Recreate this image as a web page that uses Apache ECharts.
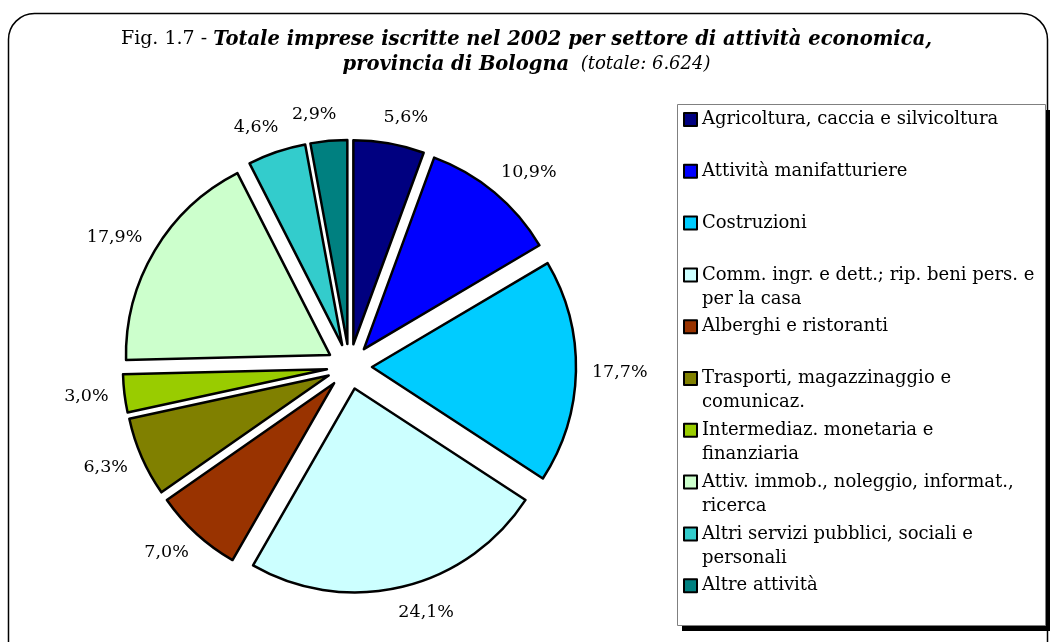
<!DOCTYPE html>
<html>
<head>
<meta charset="utf-8">
<script src="https://cdn.jsdelivr.net/npm/echarts@6/dist/echarts.min.js"></script>
<style>
html,body{margin:0;padding:0;background:#fff;}
#chart{width:1053px;height:642px;}
</style>
</head>
<body>
<div id="chart"></div>
<script>
/* dati: imprese iscritte 2002 per settore, provincia di Bologna */
var categories = [
    'Agricoltura, caccia e silvicoltura',
    'Attività manifatturiere',
    'Costruzioni',
    'Comm. ingr. e dett.; rip. beni pers. e per la casa',
    'Alberghi e ristoranti',
    'Trasporti, magazzinaggio e comunicaz.',
    'Intermediaz. monetaria e finanziaria',
    'Attiv. immob., noleggio, informat., ricerca',
    'Altri servizi pubblici, sociali e personali',
    'Altre attività'
];
var values = [5.6, 10.9, 17.7, 24.1, 7.0, 6.3, 3.0, 17.9, 4.6, 2.9];
var legendText = [
    'Agricoltura, caccia e silvicoltura',
    'Attività manifatturiere',
    'Costruzioni',
    'Comm. ingr. e dett.; rip. beni pers. e\nper la casa',
    'Alberghi e ristoranti',
    'Trasporti, magazzinaggio e\ncomunicaz.',
    'Intermediaz. monetaria e\nfinanziaria',
    'Attiv. immob., noleggio, informat.,\nricerca',
    'Altri servizi pubblici, sociali e\npersonali',
    'Altre attività'
];
var colors = ['#000080','#0000ff','#00ccff','#ccffff','#993300','#808000','#99cc00','#ccffcc','#33cccc','#008080'];

var font = 'DejaVu Serif';

var pieData = categories.map(function(name, i){
    return {name: name, value: values[i], selected: true};
});

var option = {
    color: colors,
    animation: false,
    title: {
        left: 'center',
        top: 27,
        padding: 0,
        text: '{n|Fig. 1.7 - }{b|Totale imprese iscritte nel 2002 per settore di attività economica,}\n{b|provincia di Bologna}{i|  (totale: 6.624)}',
        textStyle: {
            fontFamily: font,
            fontWeight: 'normal',
            lineHeight: 25,
            rich: {
                n: {fontFamily: font, fontSize: 19, fontWeight: 'normal', color: '#000', lineHeight: 25},
                b: {fontFamily: font, fontSize: 19.5, fontWeight: 'bold', fontStyle: 'italic', color: '#000', lineHeight: 25},
                i: {fontFamily: font, fontSize: 18, fontWeight: 'normal', fontStyle: 'italic', color: '#000', lineHeight: 25}
            }
        }
    },
    legend: {
        orient: 'vertical',
        left: 683,
        top: 83.5,
        padding: 0,
        itemGap: -20.2,
        itemWidth: 13,
        itemHeight: 13,
        icon: 'rect',
        selectedMode: false,
        itemStyle: {borderColor: '#000', borderWidth: 2},
        textStyle: {fontFamily: font, fontSize: 18, color: '#000', lineHeight: 24},
        formatter: function(name){
            var t = legendText[categories.indexOf(name)];
            // riga vuota sopra (e sotto se serve) per allineare il quadratino alla prima riga
            return '\n' + t + (t.indexOf('\n') < 0 ? '\n' : '');
        },
        data: categories
    },
    graphic: [
        {type: 'rect', z: -10, shape: {x: 8.5, y: 13.5, width: 1039, height: 700, r: 26},
            style: {fill: 'none', stroke: '#000', lineWidth: 1.5}},
        {type: 'rect', z: -10, shape: {x: 682, y: 110, width: 368, height: 521},
            style: {fill: '#000'}},
        {type: 'rect', z: -9, shape: {x: 677.5, y: 104.5, width: 368, height: 521},
            style: {fill: '#fff', stroke: '#808080', lineWidth: 1}}
    ],
    series: [
        {
            type: 'pie',
            center: [349.4, 366.5],
            radius: 204,
            startAngle: 90,
            clockwise: true,
            selectedMode: 'multiple',
            selectedOffset: 22.6,
            avoidLabelOverlap: false,
            emphasis: {disabled: true},
            select: {itemStyle: {borderColor: '#000', borderWidth: 2.5}},
            itemStyle: {borderColor: '#000', borderWidth: 2.5},
            label: {
                show: true,
                position: 'outside',
                distanceToLabelLine: 0,
                fontFamily: font,
                fontSize: 17.5,
                color: '#000',
                formatter: function(p){
                    return p.value.toFixed(1).replace('.', ',') + '%';
                }
            },
            labelLine: {show: false, length: 26, length2: -10},
            data: pieData
        }
    ]
};

var myChart = echarts.init(document.getElementById('chart'));
myChart.setOption(option);
</script>
</body>
</html>
